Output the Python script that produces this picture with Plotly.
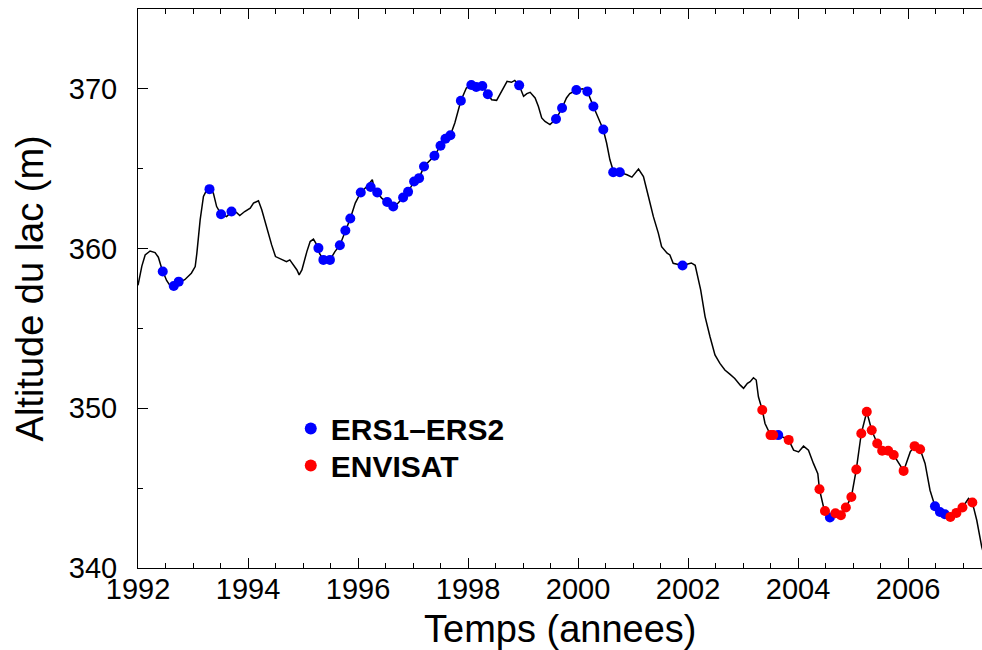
import plotly.graph_objects as go

# Continuous lake level series (decimal year, altitude in m)
line_years = [
    1992.00, 1992.07, 1992.13, 1992.22, 1992.31, 1992.37, 1992.43, 1992.52, 1992.58, 1992.65,
    1992.75, 1992.85, 1992.97, 1993.04, 1993.07, 1993.13, 1993.19, 1993.25, 1993.30, 1993.37,
    1993.43, 1993.51, 1993.61, 1993.70, 1993.79, 1993.85, 1993.94, 1994.04, 1994.10, 1994.19,
    1994.25, 1994.34, 1994.43, 1994.50, 1994.61, 1994.70, 1994.76, 1994.82, 1994.89, 1994.93,
    1994.98, 1995.07, 1995.13, 1995.19, 1995.25, 1995.30, 1995.37, 1995.49, 1995.58, 1995.67,
    1995.77, 1995.86, 1995.95, 1996.05, 1996.16, 1996.26, 1996.30, 1996.35, 1996.43, 1996.53,
    1996.64, 1996.73, 1996.82, 1996.91, 1997.02, 1997.11, 1997.20, 1997.30, 1997.39, 1997.50,
    1997.59, 1997.68, 1997.76, 1997.87, 1997.97, 1998.06, 1998.15, 1998.26, 1998.36, 1998.43,
    1998.52, 1998.58, 1998.64, 1998.71, 1998.79, 1998.85, 1998.93, 1999.01, 1999.07, 1999.13,
    1999.22, 1999.28, 1999.34, 1999.40, 1999.49, 1999.60, 1999.71, 1999.79, 1999.85, 1999.97,
    2000.08, 2000.17, 2000.28, 2000.37, 2000.46, 2000.52, 2000.58, 2000.65, 2000.76, 2000.89,
    2000.98, 2001.10, 2001.19, 2001.28, 2001.37, 2001.46, 2001.52, 2001.62, 2001.67, 2001.73,
    2001.90, 2002.06, 2002.13, 2002.23, 2002.31, 2002.40, 2002.49, 2002.58, 2002.67, 2002.76,
    2002.85, 2002.95, 2003.01, 2003.08, 2003.13, 2003.19, 2003.24, 2003.28, 2003.35, 2003.40,
    2003.50, 2003.64, 2003.83, 2003.92, 2004.01, 2004.10, 2004.19, 2004.28, 2004.36, 2004.39,
    2004.48, 2004.58, 2004.69, 2004.78, 2004.87, 2004.97, 2005.06, 2005.15, 2005.25, 2005.34,
    2005.44, 2005.53, 2005.64, 2005.74, 2005.85, 2005.92, 2006.04, 2006.12, 2006.22, 2006.31,
    2006.40, 2006.49, 2006.58, 2006.67, 2006.77, 2006.88, 2006.99, 2007.10, 2007.17, 2007.25,
    2007.34, 2007.40,
]
line_alt = [
    357.70, 358.90, 359.60, 359.85, 359.75, 359.46, 358.77, 358.00, 357.70, 357.62,
    357.90, 358.05, 358.46, 358.87, 359.70, 361.80, 363.26, 363.68, 363.75, 363.47,
    362.63, 362.15, 362.00, 362.30, 362.26, 362.07, 362.32, 362.53, 362.85, 362.99,
    362.43, 361.28, 360.23, 359.50, 359.33, 359.18, 359.29, 358.98, 358.66, 358.35,
    358.66, 359.81, 360.44, 360.59, 360.23, 359.70, 359.30, 359.28, 359.81, 360.21,
    361.13, 361.88, 362.85, 363.51, 363.89, 364.31, 363.70, 363.51, 363.16, 362.89,
    362.63, 362.85, 363.20, 363.55, 364.20, 364.41, 365.14, 365.50, 365.81, 366.44,
    366.88, 367.09, 367.86, 369.26, 370.05, 370.24, 370.12, 370.18, 369.66, 369.32,
    369.28, 369.64, 370.06, 370.47, 370.41, 370.53, 370.22, 369.53, 369.70, 369.78,
    369.43, 368.90, 368.18, 367.96, 367.76, 368.11, 368.80, 369.43, 369.70, 369.91,
    370.00, 369.84, 368.90, 368.18, 367.44, 366.61, 365.56, 364.77, 364.77, 364.62,
    364.47, 364.98, 364.51, 363.26, 362.00, 360.97, 360.12, 359.71, 359.60, 359.08,
    358.94, 359.10, 358.95, 357.41, 355.74, 354.48, 353.34, 352.81, 352.40, 352.14,
    351.87, 351.45, 351.25, 351.56, 351.66, 351.91, 351.77, 350.72, 349.89, 349.05,
    348.32, 348.32, 348.02, 347.38, 347.27, 347.63, 347.38, 346.55, 345.90, 344.93,
    343.57, 343.16, 343.45, 343.30, 343.79, 344.45, 346.17, 348.42, 349.78, 348.63,
    347.80, 347.34, 347.34, 347.07, 346.44, 346.08, 347.27, 347.63, 347.44, 346.55,
    344.87, 343.87, 343.51, 343.37, 343.20, 343.45, 343.79, 344.35, 344.10, 342.99,
    341.32, 340.60,
]

# ERS1-ERS2 altimetry points
ers_years = [
    1992.45, 1992.65, 1992.74, 1993.30, 1993.51, 1993.70, 1995.28, 1995.37, 1995.49, 1995.67,
    1995.77, 1995.86, 1996.05, 1996.23, 1996.35, 1996.53, 1996.64, 1996.82, 1996.91, 1997.02,
    1997.11, 1997.20, 1997.39, 1997.50, 1997.59, 1997.68, 1997.87, 1998.06, 1998.15, 1998.26,
    1998.36, 1998.93, 1999.60, 1999.71, 1999.97, 2000.17, 2000.28, 2000.46, 2000.64, 2000.76,
    2001.90, 2003.64, 2004.58, 2006.49, 2006.58, 2006.67,
]
ers_alt = [
    358.56, 357.66, 357.93, 363.72, 362.15, 362.32, 360.03, 359.29, 359.29, 360.21,
    361.13, 361.88, 363.51, 363.85, 363.51, 362.92, 362.63, 363.20, 363.55, 364.20,
    364.41, 365.14, 365.81, 366.44, 366.88, 367.09, 369.26, 370.24, 370.12, 370.18,
    369.66, 370.22, 368.11, 368.80, 369.93, 369.84, 368.90, 367.46, 364.78, 364.78,
    358.94, 348.32, 343.16, 343.87, 343.51, 343.37,
]

# ENVISAT altimetry points
env_years = [
    2003.35, 2003.50, 2003.55, 2003.83, 2004.39, 2004.49, 2004.68, 2004.78, 2004.87, 2004.97,
    2005.06, 2005.15, 2005.25, 2005.34, 2005.44, 2005.53, 2005.64, 2005.74, 2005.92, 2006.12,
    2006.22, 2006.77, 2006.88, 2006.99, 2007.17,
]
env_alt = [
    349.89, 348.32, 348.32, 348.02, 344.93, 343.57, 343.43, 343.30, 343.79, 344.45,
    346.17, 348.42, 349.78, 348.63, 347.80, 347.34, 347.34, 347.07, 346.08, 347.63,
    347.44, 343.20, 343.45, 343.79, 344.10,
]

x_range = [1992, 2007.345]
y_range = [340, 375]
x_tickvals = [1992, 1994, 1996, 1998, 2000, 2002, 2004, 2006]
y_tickvals = [340, 350, 360, 370]

FONT = "Liberation Sans, Arial, sans-serif"
LEGEND_FONT = dict(family=FONT, size=30, color="black", weight="bold")

fig = go.Figure()

fig.add_trace(go.Scatter(
    x=line_years, y=line_alt, mode="lines",
    line=dict(color="black", width=1.5),
    showlegend=False, hoverinfo="skip",
))
fig.add_trace(go.Scatter(
    x=ers_years, y=ers_alt, mode="markers", name="ERS1\u2013ERS2",
    marker=dict(color="#0000ff", size=10), legend="legend",
))
fig.add_trace(go.Scatter(
    x=env_years, y=env_alt, mode="markers", name="ENVISAT",
    marker=dict(color="#ff0000", size=10), legend="legend2",
))

fig.update_layout(
    width=982, height=650,
    margin=dict(l=138, r=0, t=9, b=82),
    paper_bgcolor="white", plot_bgcolor="white",
    font=dict(family=FONT, color="black"),
    showlegend=True,
    legend=dict(
        x=0.181, y=0.296, xanchor="left", yanchor="top",
        bgcolor="rgba(0,0,0,0)", borderwidth=0,
        font=LEGEND_FONT, itemsizing="constant",
    ),
    legend2=dict(
        x=0.181, y=0.230, xanchor="left", yanchor="top",
        bgcolor="rgba(0,0,0,0)", borderwidth=0,
        font=LEGEND_FONT, itemsizing="constant",
    ),
    xaxis=dict(
        range=x_range, tickvals=x_tickvals,
        ticks="inside", ticklen=10, tickwidth=1, tickcolor="black",
        showline=True, linecolor="black", linewidth=1, mirror="ticks",
        showgrid=False, zeroline=False,
        tickfont=dict(family=FONT, size=29, color="black"),
        ticklabelstandoff=-5,
        minor=dict(dtick=0.5, tick0=1992, ticks="inside", ticklen=5,
                   tickwidth=1, tickcolor="black", showgrid=False),
    ),
    yaxis=dict(
        range=y_range, tickvals=y_tickvals,
        ticks="inside", ticklen=10, tickwidth=1, tickcolor="black",
        showline=True, linecolor="black", linewidth=1, mirror=False,
        showgrid=False, zeroline=False,
        tickfont=dict(family=FONT, size=29, color="black"),
        ticklabelstandoff=14,
        minor=dict(dtick=5, tick0=340, ticks="inside", ticklen=5,
                   tickwidth=1, tickcolor="black", showgrid=False),
    ),
    yaxis2=dict(
        range=y_range, overlaying="y", side="right", anchor="x",
        tickvals=y_tickvals, ticks="inside", ticklen=3, tickwidth=1,
        tickcolor="black", showline=False, showgrid=False, zeroline=False,
        showticklabels=False,
    ),
    annotations=[
        dict(text="Temps (annees)", xref="paper", yref="paper",
             x=0.5, y=-0.109, xanchor="center", yanchor="middle",
             showarrow=False, font=dict(family=FONT, size=38, color="black")),
        dict(text="Altitude du lac (m)", xref="paper", yref="paper",
             x=-0.128, y=0.5, xanchor="center", yanchor="middle", textangle=-90,
             showarrow=False, font=dict(family=FONT, size=38, color="black")),
    ],
)

fig.write_html("out.html")
